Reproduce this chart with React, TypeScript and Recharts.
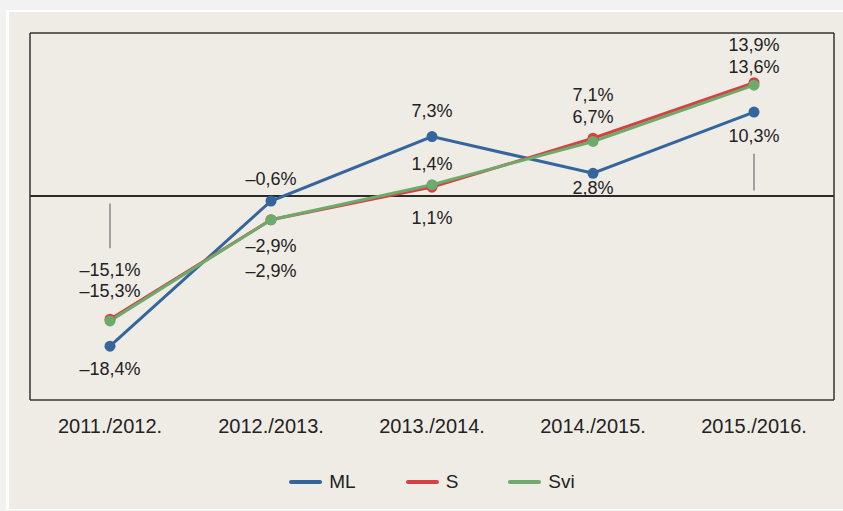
import {
  LineChart,
  Line,
  XAxis,
  YAxis,
  ReferenceLine,
  Legend,
  LabelList,
} from 'recharts';

const categories = ['2011./2012.', '2012./2013.', '2013./2014.', '2014./2015.', '2015./2016.'];
const mlValues = [-18.4, -0.6, 7.3, 2.8, 10.3];
const sValues = [-15.1, -2.9, 1.1, 7.1, 13.9];
const sviValues = [-15.3, -2.9, 1.4, 6.7, 13.6];
const yDomain = [-25, 20];

// leader lines (data coordinates)
const leaders = [
  { x: '2011./2012.', from: -0.9, to: -6.4 },
  { x: '2015./2016.', from: 5.2, to: 0.7 },
];

const data = categories.map((period, i) => ({
  period,
  ML: mlValues[i],
  S: sValues[i],
  Svi: sviValues[i],
}));

const series = [
  { key: 'ML', color: '#34659b', offsets: [23, -22, -26, 15, 24] },
  { key: 'S', color: '#d64242', offsets: [-49, 26, 31, -43, -38] },
  { key: 'Svi', color: '#6cab6c', offsets: [-30, 51, -21, -24, -18] },
];

const FONT = '"Liberation Sans", Arial, sans-serif';
const TEXT = '#222';
const FRAME = { stroke: '#333', strokeWidth: 1.5 };

const fmt = (v: number) => (v < 0 ? '\u2013' : '') + Math.abs(v).toFixed(1).replace('.', ',') + '%';

const makeLabel = (offsets: number[]) => (props: any) => {
  const { x, y, value, index } = props;
  return (
    <text
      x={x}
      y={y + offsets[index]}
      textAnchor="middle"
      dominantBaseline="central"
      fontSize={18}
      fontFamily={FONT}
      fill={TEXT}
    >
      {fmt(value)}
    </text>
  );
};

const LegendContent = () => (
  <div
    style={{
      display: 'flex',
      justifyContent: 'center',
      alignItems: 'center',
      height: 24,
      fontFamily: FONT,
      fontSize: 19,
      color: TEXT,
      gap: 50,
    }}
  >
    {series.map((s) => (
      <div key={s.key} style={{ display: 'flex', alignItems: 'center' }}>
        <span
          style={{
            display: 'inline-block',
            width: 33,
            height: 4,
            borderRadius: 2,
            background: s.color,
            marginRight: 7,
          }}
        />
        <span>{s.key}</span>
      </div>
    ))}
  </div>
);

export default function App() {
  return (
    <div style={{ position: 'absolute', left: 0, top: 0, width: 843, height: 511, background: '#f2f2f2', overflow: 'hidden' }}>
      <div
        style={{
          position: 'absolute',
          left: 6,
          top: 10,
          width: 850,
          height: 500,
          boxSizing: 'border-box',
          borderLeft: '3px solid #fff',
          borderTop: '2px solid #fff',
          borderBottom: '1px solid #fff',
          background: '#efece6',
        }}
      />
      <div style={{ position: 'absolute', left: 0, top: 0 }}>
        <LineChart width={843} height={511} data={data} margin={{ top: 32, right: 8, bottom: 17, left: 29 }}>
          <XAxis
            dataKey="period"
            padding={{ left: 80, right: 80 }}
            axisLine={FRAME}
            tickLine={false}
            tickSize={0}
            tickMargin={19}
            height={70}
            tick={{ fontSize: 20, fontFamily: FONT, fill: TEXT }}
            interval={0}
          />
          <XAxis xAxisId="top" orientation="top" dataKey="period" height={1} tick={false} tickLine={false} axisLine={FRAME} />
          <YAxis domain={yDomain} width={1} tick={false} tickLine={false} axisLine={FRAME} />
          <YAxis yAxisId="right" orientation="right" domain={yDomain} width={1} tick={false} tickLine={false} axisLine={FRAME} />
          <ReferenceLine y={0} stroke="#2b2b2b" strokeWidth={2} />
          {leaders.map((l) => (
            <ReferenceLine
              key={l.x}
              segment={[
                { x: l.x, y: l.from },
                { x: l.x, y: l.to },
              ]}
              stroke="#777"
              strokeWidth={1.3}
            />
          ))}
          {series.map((s) => (
            <Line
              key={s.key}
              dataKey={s.key}
              stroke={s.color}
              strokeWidth={3}
              dot={{ r: 5.5, fill: s.color, stroke: s.color, strokeWidth: 0 }}
              activeDot={false}
              isAnimationActive={false}
            >
              <LabelList dataKey={s.key} content={makeLabel(s.offsets)} />
            </Line>
          ))}
          <Legend verticalAlign="bottom" content={<LegendContent />} />
        </LineChart>
      </div>
    </div>
  );
}
